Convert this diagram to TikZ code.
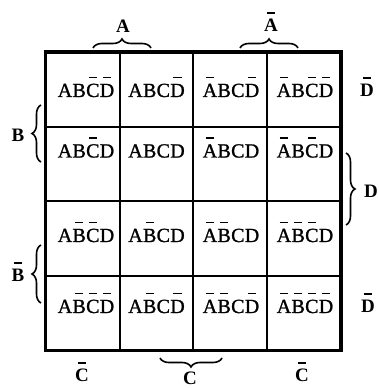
\documentclass[tikz,border=0pt]{standalone}
\usepackage{fontspec}
\setmainfont{Liberation Serif}
\newfontfamily\cellfont[FakeBold=1.2]{Liberation Serif}
\usetikzlibrary{decorations.pathreplacing}
\newcommand\nb[1]{\leavevmode\setbox0\hbox{#1}\rlap{\hbox to\wd0{\hss\rule[\dimexpr\ht0+5.5pt\relax]{0.6\wd0}{1.6pt}\hss}}\box0}
\newcommand\kt[4]{#1\kern0.3pt#2\kern0.3pt#3\kern0.3pt#4}
\tikzset{
  cell/.style={draw, line width=2pt, minimum width=73.5pt, minimum height=74.25pt, inner sep=0pt},
  ct/.style={anchor=base, inner sep=0pt, font=\cellfont\fontsize{20}{20}\selectfont},
  lab/.style={anchor=base, inner sep=0pt, font=\fontsize{19}{19}\selectfont\bfseries},
  outer/.style={line width=3pt},
  brc/.style={decorate, decoration={brace, amplitude=9pt}, line width=1.6pt},
}
\begin{document}
\begin{tikzpicture}[x=1pt,y=1pt]
\useasboundingbox (0,0) rectangle (378,388);
% cells
\node[cell] (c11) at (82.75,297.875) {};
\node[cell] (c12) at (156.25,297.875) {};
\node[cell] (c13) at (229.75,297.875) {};
\node[cell] (c14) at (303.25,297.875) {};
\node[cell] (c21) at (82.75,223.625) {};
\node[cell] (c22) at (156.25,223.625) {};
\node[cell] (c23) at (229.75,223.625) {};
\node[cell] (c24) at (303.25,223.625) {};
\node[cell] (c31) at (82.75,149.375) {};
\node[cell] (c32) at (156.25,149.375) {};
\node[cell] (c33) at (229.75,149.375) {};
\node[cell] (c34) at (303.25,149.375) {};
\node[cell] (c41) at (82.75,75.125) {};
\node[cell] (c42) at (156.25,75.125) {};
\node[cell] (c43) at (229.75,75.125) {};
\node[cell] (c44) at (303.25,75.125) {};
\draw[outer] (c11.north west) rectangle (c44.south east);
% cell texts
\node[ct] (t11) at (86,291) {\kt{A}{B}{\nb{C}}{\nb{D}}};
\node[ct] (t12) at (156.5,291) {\kt{A}{B}{C}{\nb{D}}};
\node[ct] (t13) at (231,291) {\kt{\nb{A}}{B}{C}{\nb{D}}};
\node[ct] (t14) at (305,291) {\kt{\nb{A}}{B}{\nb{C}}{\nb{D}}};
\node[ct] (t21) at (86,230.5) {\kt{A}{B}{\nb{C}}{D}};
\node[ct] (t22) at (156.5,230.5) {\kt{A}{B}{C}{D}};
\node[ct] (t23) at (231,230.5) {\kt{\nb{A}}{B}{C}{D}};
\node[ct] (t24) at (305,230.5) {\kt{\nb{A}}{B}{\nb{C}}{D}};
\node[ct] (t31) at (86,146) {\kt{A}{\nb{B}}{\nb{C}}{D}};
\node[ct] (t32) at (156.5,146) {\kt{A}{\nb{B}}{C}{D}};
\node[ct] (t33) at (231,146) {\kt{\nb{A}}{\nb{B}}{C}{D}};
\node[ct] (t34) at (305,146) {\kt{\nb{A}}{\nb{B}}{\nb{C}}{D}};
\node[ct] (t41) at (86,75) {\kt{A}{\nb{B}}{\nb{C}}{\nb{D}}};
\node[ct] (t42) at (156.5,75) {\kt{A}{\nb{B}}{C}{\nb{D}}};
\node[ct] (t43) at (231,75) {\kt{\nb{A}}{\nb{B}}{C}{\nb{D}}};
\node[ct] (t44) at (305,75) {\kt{\nb{A}}{\nb{B}}{\nb{C}}{\nb{D}}};
% braces
\coordinate (ba1) at (93,340);  \coordinate (ba2) at (151,340);
\coordinate (bb1) at (240,340); \coordinate (bb2) at (298,340);
\coordinate (bc1) at (41,226);  \coordinate (bc2) at (41,283);
\coordinate (bd1) at (41,85);   \coordinate (bd2) at (41,143);
\coordinate (be1) at (346,235); \coordinate (be2) at (346,163);
\coordinate (bf1) at (222,30);  \coordinate (bf2) at (160,30);
\draw[brc] (ba1) -- (ba2);
\draw[brc] (bb1) -- (bb2);
\draw[brc] (bc1) -- (bc2);
\draw[brc] (bd1) -- (bd2);
\draw[brc] (be1) -- (be2);
\draw[brc] (bf1) -- (bf2);
% labels
\node[lab] (lA) at (123,355) {A};
\node[lab] (lnA) at (271,356) {\nb{A}};
\node[lab] (lnD1) at (367,291) {\nb{D}};
\node[lab] (lB) at (18,246) {B};
\node[lab] (lD) at (371,190) {D};
\node[lab] (lnB) at (18,106) {\nb{B}};
\node[lab] (lnD2) at (368,75) {\nb{D}};
\node[lab] (lnC1) at (82,6) {\nb{C}};
\node[lab] (lC) at (190,3) {C};
\node[lab] (lnC2) at (302,6) {\nb{C}};
\end{tikzpicture}
\end{document}
